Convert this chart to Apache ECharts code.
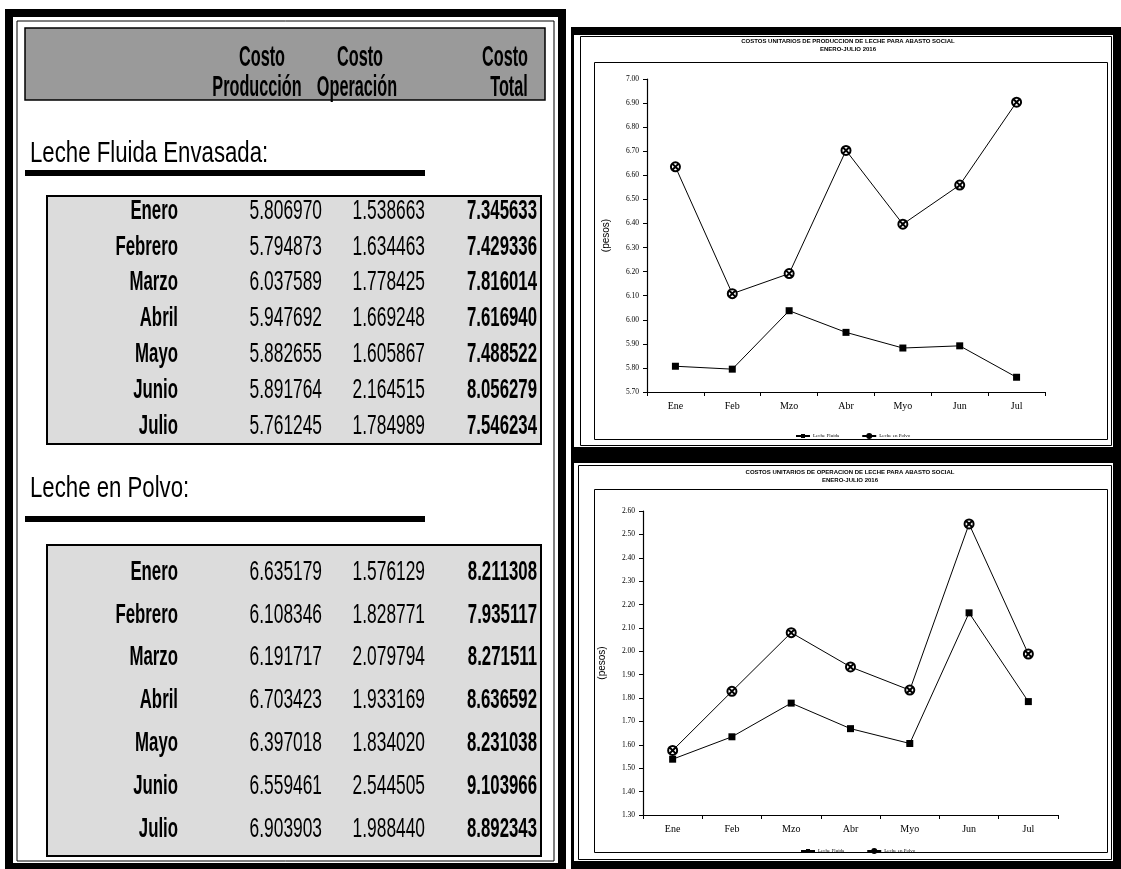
<!DOCTYPE html>
<html>
<head>
<meta charset="utf-8">
<script src="https://cdn.jsdelivr.net/npm/echarts@6/dist/echarts.min.js"></script>
<style>
html,body{margin:0;padding:0;background:#fff;}
#c{width:1121px;height:869px;}
</style>
</head>
<body>
<div id="c"></div>
<script>
// ---- data ----
const months = ['Enero','Febrero','Marzo','Abril','Mayo','Junio','Julio'];
const fluidaProd  = [5.806970, 5.794873, 6.037589, 5.947692, 5.882655, 5.891764, 5.761245];
const fluidaOper  = [1.538663, 1.634463, 1.778425, 1.669248, 1.605867, 2.164515, 1.784989];
const fluidaTotal = [7.345633, 7.429336, 7.816014, 7.616940, 7.488522, 8.056279, 7.546234];
const polvoProd   = [6.635179, 6.108346, 6.191717, 6.703423, 6.397018, 6.559461, 6.903903];
const polvoOper   = [1.576129, 1.828771, 2.079794, 1.933169, 1.834020, 2.544505, 1.988440];
const polvoTotal  = [8.211308, 7.935117, 8.271511, 8.636592, 8.231038, 9.103966, 8.892343];
const axisMonths = ['Ene','Feb','Mzo','Abr','Myo','Jun','Jul'];
const headerTop = ['Costo','Costo','Costo'];
const headerBottom = ['Producción','Operación','Total'];
const sectionTitles = ['Leche Fluida Envasada:', 'Leche en Polvo:'];
const seriesNames = ['Leche Fluida', 'Leche en Polvo'];
const chartTitles = ['COSTOS UNITARIOS DE PRODUCCION DE LECHE PARA ABASTO SOCIAL',
                     'COSTOS UNITARIOS DE OPERACION DE LECHE PARA ABASTO SOCIAL'];
const chartSubtitle = 'ENERO-JULIO 2016';
const yAxisName = '(pesos)';

// ---- layout ----
const SANS = "'Liberation Sans', Arial, sans-serif";
const SERIF = "'Liberation Serif', 'Times New Roman', serif";
const CROSS_CIRCLE = 'emptypath://M0,10 A10,10 0 1,1 20,10 A10,10 0 1,1 0,10 Z M4,4 L16,16 M16,4 L4,16';
const g = [];
function rect(x, y, w, h, fill, stroke, lw) {
  g.push({type:'rect', silent:true, shape:{x:x, y:y, width:w, height:h},
    style:{fill: fill || 'none', stroke: stroke || null, lineWidth: lw || 0}});
}
function txt(str, x, y, font, align, sx) {
  g.push({type:'text', silent:true, x:x, y:y, scaleX: sx || 1,
    style:{text:str, font:font, fill:'#000', align:align, textAlign:align,
           verticalAlign:'middle', textVerticalAlign:'middle'}});
}

// left panel
rect(9, 13, 553, 854, null, '#000', 8);
rect(17, 21, 537, 840, null, '#000', 1);
rect(25, 28, 520, 72, '#9a9a9a', '#000', 1.5);
const headX1 = [262, 360, 505], headX2 = [257, 357, 509];
headerTop.forEach((t, i) => txt(t, headX1[i], 58, 'bold 29px ' + SANS, 'center', 0.56));
headerBottom.forEach((t, i) => txt(t, headX2[i], 88, 'bold 29px ' + SANS, 'center', 0.56));

const sections = [
  {title: sectionTitles[0], ty: 154, uy: 170, top: 196, bottom: 444, first: 211, last: 426, prod: fluidaProd, oper: fluidaOper, tot: fluidaTotal},
  {title: sectionTitles[1], ty: 489, uy: 516, top: 545, bottom: 856, first: 572, last: 829, prod: polvoProd, oper: polvoOper, tot: polvoTotal}
];
const colRight = [178, 322, 425, 537];
sections.forEach(s => {
  txt(s.title, 30, s.ty, '30px ' + SANS, 'left', 0.74);
  rect(25, s.uy, 400, 6, '#000');
  rect(47, s.top, 494, s.bottom - s.top, '#dcdcdc', '#000', 2);
  const step = (s.last - s.first) / 6;
  months.forEach((m, k) => {
    const y = s.first + k * step;
    txt(m, colRight[0], y, 'bold 28px ' + SANS, 'right', 0.6);
    txt(s.prod[k].toFixed(6), colRight[1], y, '28px ' + SANS, 'right', 0.62);
    txt(s.oper[k].toFixed(6), colRight[2], y, '28px ' + SANS, 'right', 0.62);
    txt(s.tot[k].toFixed(6), colRight[3], y, 'bold 28px ' + SANS, 'right', 0.6);
  });
});

// right panel frames
rect(571, 27, 550, 8, '#000');
rect(1113, 27, 8, 842, '#000');
rect(571, 27, 3, 842, '#000');
rect(571, 447, 550, 16, '#000');
rect(571, 861, 550, 8, '#000');
rect(580.5, 36.5, 531, 409, null, '#000', 1);
rect(578.5, 465.5, 533, 394, null, '#000', 1);
rect(594.5, 62.5, 513, 377, null, '#000', 1);
rect(594.5, 489.5, 513, 363, null, '#000', 1);
// chart titles
txt(chartTitles[0], 848, 41, 'bold 6px ' + SANS, 'center', 1);
txt(chartSubtitle, 848, 49, 'bold 6px ' + SANS, 'center', 1);
txt(chartTitles[1], 850, 472, 'bold 6px ' + SANS, 'center', 1);
txt(chartSubtitle, 850, 480, 'bold 6px ' + SANS, 'center', 1);

function xAxis(gi) {
  return {type:'category', gridIndex:gi, data:axisMonths,
    axisLine:{lineStyle:{color:'#000', width:1.2}},
    axisTick:{show:true, length:4, lineStyle:{color:'#000'}},
    axisLabel:{color:'#000', fontFamily:SERIF, fontSize:10, margin:9}};
}
function yAxis(gi, min, max) {
  return {type:'value', gridIndex:gi, min:min, max:max, interval:0.1,
    name:yAxisName, nameLocation:'middle', nameRotate:90, nameGap:36,
    nameTextStyle:{color:'#000', fontFamily:SANS, fontSize:10},
    axisLine:{show:true, lineStyle:{color:'#000', width:1.2}},
    axisTick:{show:true, length:4, lineStyle:{color:'#000'}},
    splitLine:{show:false},
    axisLabel:{color:'#000', fontFamily:SERIF, fontSize:7.5, margin:8,
      formatter: v => v.toFixed(2)}};
}
function lineSeries(name, data, gi, isSquare) {
  return {type:'line', name:name, data:data, xAxisIndex:gi, yAxisIndex:gi,
    symbol: isSquare ? 'rect' : CROSS_CIRCLE, symbolSize: isSquare ? 7 : 9,
    lineStyle:{color:'#000', width:1},
    itemStyle:{color:'#000', borderColor:'#000', borderWidth: isSquare ? 0 : 1.2},
    animation:false};
}
function legend(left, top) {
  return {data:seriesNames, left:left, top:top, itemWidth:14, itemHeight:5, itemGap:22,
    textStyle:{color:'#000', fontSize:5, fontFamily:SERIF, padding:[0,0,0,-2]}};
}

const chart = echarts.init(document.getElementById('c'), null, {renderer:'canvas'});
chart.setOption({
  backgroundColor:'#fff',
  animation:false,
  grid:[
    {left:647, top:79, width:398, height:313},
    {left:643, top:511, width:415, height:304}
  ],
  xAxis:[xAxis(0), xAxis(1)],
  yAxis:[yAxis(0, 5.7, 7.0), yAxis(1, 1.3, 2.6)],
  legend:[legend(790, 428), legend(795, 843)],
  series:[
    lineSeries(seriesNames[0], fluidaProd, 0, true),
    lineSeries(seriesNames[1], polvoProd, 0, false),
    lineSeries(seriesNames[0], fluidaOper, 1, true),
    lineSeries(seriesNames[1], polvoOper, 1, false)
  ],
  graphic:{elements:g}
});
</script>
</body>
</html>
